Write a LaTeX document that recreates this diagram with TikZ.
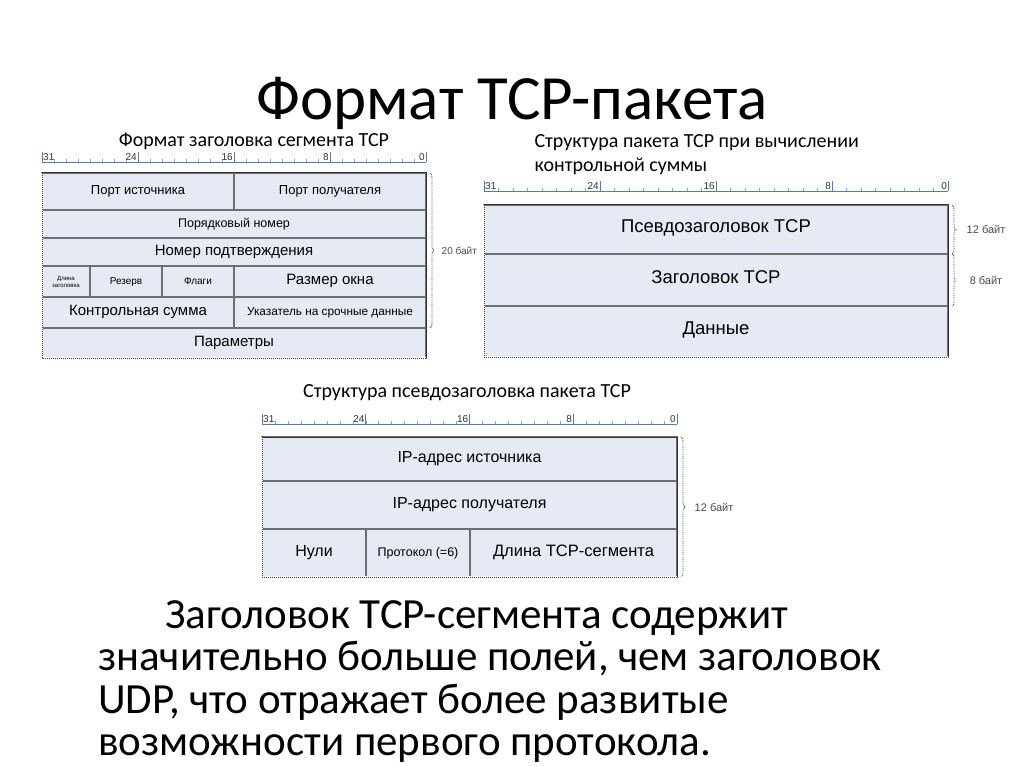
\documentclass[tikz,border=0pt]{standalone}
\usepackage{fontspec}
\setmainfont{Carlito}
\newfontfamily\tabfont{Liberation Sans}
\usetikzlibrary{decorations.pathreplacing}
\definecolor{fieldfill}{RGB}{229,234,245}
\definecolor{fieldline}{RGB}{110,110,110}
\definecolor{rulerblue}{RGB}{74,126,187}
\definecolor{bracegrey}{RGB}{70,70,70}

% bit ruler: x start, x end, baseline y
\newcommand{\bitruler}[3]{%
  \pgfmathsetmacro{\bitw}{(#2-#1)/32}
  \draw[ruler_line] (#1,#3) -- (#2,#3);
  \foreach \k in {1,...,31} {
    \draw[ruler_tick] ({#1+\k*\bitw},#3) -- ++(0,-3);
  }
  \foreach \k in {0,8,16,24,32} {
    \draw[ruler_bar] ({#1+\k*\bitw},#3) -- ++(0,-10);
  }
  \node[ruler_num, anchor=south west] at (#1,#3) {31};
  \node[ruler_num, anchor=south east] at ({#1+8*\bitw},#3) {24};
  \node[ruler_num, anchor=south east] at ({#1+16*\bitw},#3) {16};
  \node[ruler_num, anchor=south east] at ({#1+24*\bitw},#3) {8};
  \node[ruler_num, anchor=south east] at ({#1+32*\bitw},#3) {0};
}

\begin{document}
\begin{tikzpicture}[
    x=1pt, y=-1pt,
    box_style/.style={draw=fieldline, line width=1.2pt, fill=fieldfill, anchor=north west,
      inner sep=0pt, outer sep=0pt},
    field_style/.style={box_style, text height=0.72em, text depth=0.04em,
      font=\tabfont\fontsize{15}{17}\selectfont},
    small_field/.style={field_style, font=\tabfont\fontsize{11.5}{13}\selectfont},
    big_field/.style={field_style, font=\tabfont\fontsize{18.5}{21}\selectfont},
    frame_solid/.style={draw=black!80, line width=1pt},
    frame_dotted/.style={draw=black!75, line width=1pt, densely dotted},
    brace_style/.style={decorate, decoration={brace, amplitude=4pt}, draw=bracegrey, densely dotted, line width=0.8pt},
    brace_label/.style={font=\tabfont\fontsize{11}{13}\selectfont, text=black!70, anchor=west},
    caption_style/.style={font=\fontsize{20}{23}\selectfont},
    ruler_line/.style={draw=rulerblue, line width=0.8pt},
    ruler_tick/.style={draw=rulerblue!70, line width=0.5pt},
    ruler_bar/.style={draw=rulerblue, line width=0.8pt},
    ruler_num/.style={font=\tabfont\fontsize{10}{11}\selectfont, inner sep=1pt, text=black!80}
]
\useasboundingbox[fill=white] (0,0) rectangle (1024,767);

% Title
\node[font=\fontsize{63}{70}\selectfont] (title) at (512,103) {Формат TCP-пакета};

% TCP segment header
\node[caption_style] (cap1) at (254,141) {Формат заголовка сегмента TCP};
\bitruler{42}{426}{162}
\node[field_style, minimum width=192pt, minimum height=37pt, font=\tabfont\fontsize{13}{15}\selectfont] (srcport) at (42,173) {Порт источника};
\node[field_style, minimum width=192pt, minimum height=37pt, font=\tabfont\fontsize{13}{15}\selectfont] (dstport) at (234,173) {Порт получателя};
\node[field_style, minimum width=384pt, minimum height=28pt, font=\tabfont\fontsize{12.5}{15}\selectfont] (seqnum) at (42,210) {Порядковый номер};
\node[field_style, minimum width=384pt, minimum height=28pt] (acknum) at (42,238) {Номер подтверждения};
\node[box_style, minimum width=48pt, minimum height=31pt, align=center, font=\tabfont\fontsize{6}{7}\selectfont] (hlen) at (42,266) {Длина\\заголовка};
\node[small_field, minimum width=72pt, minimum height=31pt, font=\tabfont\fontsize{10}{12}\selectfont] (resv) at (90,266) {Резерв};
\node[small_field, minimum width=72pt, minimum height=31pt, font=\tabfont\fontsize{10}{12}\selectfont] (flags) at (162,266) {Флаги};
\node[field_style, minimum width=192pt, minimum height=31pt] (window) at (234,266) {Размер окна};
\node[field_style, minimum width=192pt, minimum height=31pt] (checksum) at (42,297) {Контрольная сумма};
\node[small_field, minimum width=192pt, minimum height=31pt, font=\tabfont\fontsize{11.8}{13}\selectfont] (urgent) at (234,297) {Указатель на срочные данные};
\node[field_style, minimum width=384pt, minimum height=30pt] (options) at (42,328) {Параметры};
\draw[frame_solid] (srcport.north west) -- (dstport.north east) -- (options.south east);
\draw[white, line width=1.6pt] (srcport.north west) -- (options.south west) -- (options.south east);
\draw[frame_dotted] (srcport.north west) -- (options.south west) -- (options.south east);
\draw[brace_style] ([xshift=4pt]dstport.north east) -- ([xshift=4pt]urgent.south east)
  node[midway, right=8pt, brace_label, font=\tabfont\fontsize{10}{12}\selectfont] (lbl20) {20 байт};

% checksum structure
\node[caption_style, anchor=west, align=left] (cap2) at (531,143) {Структура пакета TCP при вычислении};
\node[caption_style, anchor=west, align=left] (cap2b) at (531,166) {контрольной суммы};
\bitruler{484}{948}{191}
\node[big_field, minimum width=464pt, minimum height=49pt] (pseudo) at (484,205) {Псевдозаголовок TCP};
\node[big_field, minimum width=464pt, minimum height=52pt] (tcphdr) at (484,254) {Заголовок TCP};
\node[big_field, minimum width=464pt, minimum height=51pt] (payload) at (484,306) {Данные};
\draw[frame_solid] (pseudo.north west) -- (pseudo.north east) -- (payload.south east);
\draw[white, line width=1.6pt] (pseudo.north west) -- (payload.south west) -- (payload.south east);
\draw[frame_dotted] (pseudo.north west) -- (payload.south west) -- (payload.south east);
\draw[brace_style] ([xshift=4pt]pseudo.north east) -- ([xshift=4pt]pseudo.south east)
  node[midway, right=11pt, brace_label] (lbl12a) {12 байт};
\draw[brace_style] ([xshift=4pt]tcphdr.north east) -- ([xshift=4pt]tcphdr.south east)
  node[midway, right=14pt, brace_label] (lbl8) {8 байт};

% pseudo header structure
\node[caption_style] (cap3) at (467,393) {Структура псевдозаголовка пакета TCP};
\bitruler{262}{677}{424}
\node[field_style, minimum width=415pt, minimum height=44pt, font=\tabfont\fontsize{16}{18}\selectfont] (srcip) at (262,437) {IP-адрес источника};
\node[field_style, minimum width=415pt, minimum height=48pt, font=\tabfont\fontsize{16}{18}\selectfont] (dstip) at (262,481) {IP-адрес получателя};
\node[field_style, minimum width=104pt, minimum height=48pt, font=\tabfont\fontsize{16}{18}\selectfont] (zeros) at (262,529) {Нули};
\node[small_field, minimum width=104pt, minimum height=48pt, font=\tabfont\fontsize{12.5}{14}\selectfont] (proto) at (366,529) {Протокол (=6)};
\node[field_style, minimum width=207pt, minimum height=48pt, font=\tabfont\fontsize{16.5}{18}\selectfont] (seglen) at (470,529) {Длина TCP-сегмента};
\draw[frame_solid] (srcip.north west) -- (srcip.north east) -- (seglen.south east);
\draw[white, line width=1.6pt] (srcip.north west) -- (zeros.south west) -- (seglen.south east);
\draw[frame_dotted] (srcip.north west) -- (zeros.south west) -- (seglen.south east);
\draw[brace_style] ([xshift=4pt]srcip.north east) -- ([xshift=4pt]seglen.south east)
  node[midway, right=10pt, brace_label] (lbl12b) {12 байт};

% text below
\node[anchor=north west, align=left, inner sep=0pt, font=\fontsize{43}{42.5}\selectfont] (body) at (98,600)
  {\hspace*{67pt}Заголовок TCP-сегмента содержит\\
   значительно больше полей, чем заголовок\\
   UDP, что отражает более развитые\\
   возможности первого протокола.};
\end{tikzpicture}
\end{document}
